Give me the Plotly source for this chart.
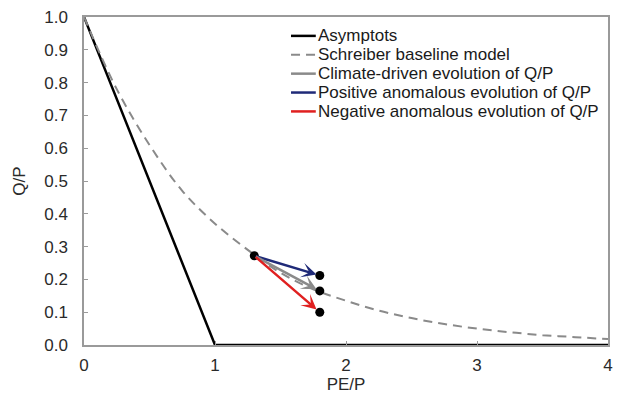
import plotly.graph_objects as go

# Asymptote (energy/water limit)
asym_x = [0, 1, 4]
asym_y = [1.0, 0.0, 0.0]

# Schreiber baseline model
sch_x = [0, 0.25, 0.5, 0.75, 1.0, 1.25, 1.5, 1.75, 2.0, 2.25, 2.5, 2.75, 3.0, 3.25, 3.5, 3.75, 4.0]
sch_y = [1.0, 0.78, 0.61, 0.47, 0.37, 0.29, 0.22, 0.17, 0.135, 0.105, 0.082, 0.064, 0.05, 0.039, 0.030, 0.024, 0.018]

# Evolution points
start_pt = (1.3, 0.272)
end_x = 1.8
end_pos = 0.212
end_clim = 0.165
end_neg = 0.10

x_ticks = [0, 1, 2, 3, 4]
y_ticks = [0.0, 0.1, 0.2, 0.3, 0.4, 0.5, 0.6, 0.7, 0.8, 0.9, 1.0]

names = ["Asymptots", "Schreiber baseline model", "Climate-driven evolution of Q/P",
         "Positive anomalous evolution of Q/P", "Negative anomalous evolution of Q/P"]

C_BLUE = "#1f2a78"
C_GRAY = "#8a8a8a"
C_RED = "#e02020"
FONT = "Liberation Sans, Arial, sans-serif"
DASH = "9px,6px"

legend_styles = [("black", "solid"), (C_GRAY, DASH), (C_GRAY, "solid"),
                 (C_BLUE, "solid"), (C_RED, "solid")]

fig = go.Figure()
fig.add_trace(go.Scatter(x=asym_x, y=asym_y, mode="lines", name=names[0],
                         line=dict(color="black", width=2.5), cliponaxis=False,
                         showlegend=False))
fig.add_trace(go.Scatter(x=sch_x, y=sch_y, mode="lines", name=names[1],
                         line=dict(color=C_GRAY, width=2, dash=DASH, shape="spline"),
                         showlegend=False))

# arrows
for yend, col in [(end_pos, C_BLUE), (end_clim, C_GRAY), (end_neg, C_RED)]:
    tx = start_pt[0] + (end_x - start_pt[0]) * 0.95
    ty = start_pt[1] + (yend - start_pt[1]) * 0.95
    fig.add_annotation(x=tx, y=ty, ax=start_pt[0], ay=start_pt[1],
                       xref="x", yref="y", axref="x", ayref="y",
                       showarrow=True, arrowhead=3, arrowsize=1.0, arrowwidth=2.5,
                       arrowcolor=col, text="")

# points
fig.add_trace(go.Scatter(x=[start_pt[0], end_x, end_x, end_x],
                         y=[start_pt[1], end_pos, end_clim, end_neg],
                         mode="markers", marker=dict(color="black", size=9),
                         showlegend=False, cliponaxis=False))

# legend drawn in paper coordinates (plot area: x 84..613, y 16..346 px)
W, H = 621, 397
L, R, T, B = 84, 8, 16, 51
pw, ph = W - L - R, H - T - B
def px(xpix):
    return (xpix - L) / pw
def py(ypix):
    return 1 - (ypix - T) / ph

row_y = [35, 54, 73, 92, 111]
for nm, (col, dash), ry in zip(names, legend_styles, row_y):
    fig.add_shape(type="line", xref="paper", yref="paper",
                  x0=px(293), x1=px(318), y0=py(ry), y1=py(ry),
                  line=dict(color=col, width=2.5 if dash == "solid" else 2, dash=dash))
    fig.add_annotation(xref="paper", yref="paper", x=px(318), y=py(ry),
                       xanchor="left", yanchor="middle", showarrow=False, text=nm,
                       font=dict(family=FONT, size=17, color="#1a1a1a"))

fig.update_layout(
    width=W, height=H,
    margin=dict(l=L, r=R, t=T, b=B),
    paper_bgcolor="white", plot_bgcolor="white",
    font=dict(family=FONT, size=17, color="#2a2a2a"),
    showlegend=False,
    xaxis=dict(range=[0, 4], tickvals=x_ticks, ticktext=[str(v) for v in x_ticks],
               showgrid=False, zeroline=False, showline=True, linecolor="#9a9a9a",
               linewidth=1.5, mirror=True, ticks="inside", ticklen=4, tickcolor="#9a9a9a",
               ticklabelstandoff=4,
               title=dict(text="PE/P", font=dict(size=17), standoff=2)),
    yaxis=dict(range=[0, 1], tickvals=y_ticks, ticktext=[f"{v:.1f}" for v in y_ticks],
               showgrid=False, zeroline=False, showline=True, linecolor="#9a9a9a",
               linewidth=1.5, mirror=True, ticks="inside", ticklen=4, tickcolor="#9a9a9a",
               ticklabelstandoff=11,
               title=dict(text="Q/P", font=dict(size=17), standoff=14)),
)

fig.write_html("out.html")
